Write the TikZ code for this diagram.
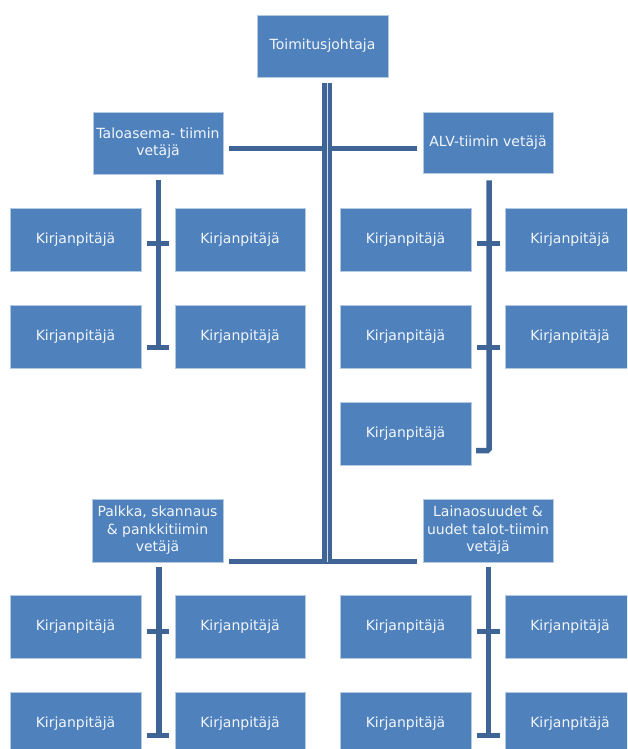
\documentclass[tikz,border=0pt]{standalone}
\usepackage{fontspec}
\setmainfont{DejaVu Sans}
\usetikzlibrary{calc}
\definecolor{boxblue}{HTML}{4F81BD}
\definecolor{boxedge}{HTML}{B4C8E2}
\definecolor{conn}{HTML}{3F6597}
\definecolor{gapc}{HTML}{D3DEEE}
\definecolor{txt}{HTML}{F2F6FB}
\begin{document}
\begin{tikzpicture}[x=1pt,y=-1pt,
  box/.style={fill=boxblue,draw=boxedge,line width=0.7pt,inner sep=0pt,
    minimum width=130pt,minimum height=63pt,text=txt,align=center,
    font=\fontsize{14}{17.5}\selectfont},
  wire/.style={draw=conn,line width=5pt},
  gapline/.style={draw=gapc,line width=0.9pt}]
\useasboundingbox (0,0) rectangle (627,749);
\clip (0,0) rectangle (627,749);
% leaders
\node[box,minimum width=131pt,minimum height=62pt] (ceo) at (322.5,46) {Toimitusjohtaja};
\node[box,minimum height=62pt] (tl) at (158,143) {Taloasema- tiimin\\vetäjä};
\node[box,minimum height=61pt] (tr) at (488,142.5) {ALV-tiimin vetäjä};
\node[box,minimum width=131pt] (bl) at (157.5,530.5) {Palkka, skannaus\\\& pankkitiimin\\vetäjä};
\node[box] (br) at (488,530.5) {Lainaosuudet \&\\uudet talot-tiimin\\vetäjä};
% upper left group
\node[box,minimum width=131pt] (a11) at (75.5,239.5) {Kirjanpitäjä};
\node[box] (a12) at (240,239.5) {Kirjanpitäjä};
\node[box,minimum width=131pt] (a21) at (75.5,336.5) {Kirjanpitäjä};
\node[box] (a22) at (240,336.5) {Kirjanpitäjä};
% upper right group
\node[box,minimum width=131pt] (b11) at (405.5,239.5) {Kirjanpitäjä};
\node[box] (b12) at (570,239.5) {Kirjanpitäjä};
\node[box,minimum width=131pt] (b21) at (405.5,336.5) {Kirjanpitäjä};
\node[box] (b22) at (570,336.5) {Kirjanpitäjä};
\node[box,minimum width=131pt] (b31) at (405.5,433.5) {Kirjanpitäjä};
% lower left group
\node[box,minimum width=131pt] (c11) at (75.5,626.5) {Kirjanpitäjä};
\node[box] (c12) at (240,626.5) {Kirjanpitäjä};
\node[box,minimum width=131pt] (c21) at (75.5,723.5) {Kirjanpitäjä};
\node[box] (c22) at (240,723.5) {Kirjanpitäjä};
% lower right group
\node[box,minimum width=131pt] (d11) at (405.5,626.5) {Kirjanpitäjä};
\node[box] (d12) at (570,626.5) {Kirjanpitäjä};
\node[box,minimum width=131pt] (d21) at (405.5,723.5) {Kirjanpitäjä};
\node[box] (d22) at (570,723.5) {Kirjanpitäjä};
% coordinates
\coordinate (trunkend) at (327,564);
\coordinate (aend) at (158.5,350);
\coordinate (bend) at (489,450.5);
\coordinate (belbow) at (476,450.5);
\coordinate (cend) at (159,737.5);
\coordinate (dend) at (488.5,737.5);
% horizontal buses
\draw[wire] ($(tl.east)+(6,5)$) -- ($(tr.west)+(-6,5.5)$);
\draw[wire] ($(bl.east)+(6,30.5)$) -- ($(br.west)+(-6,30.5)$);
% trunk (double line)
\draw[draw=conn,line width=10.5pt] ($(ceo.south)+(4.5,6)$) -- (trunkend);
\draw[gapline] ($(ceo.south)+(4.5,6)$) -- ($(trunkend)+(0,-2)$);
% upper left group
\draw[wire,line width=5.5pt] ($(tl.south)+(0.5,6)$) -- (aend);
\draw[wire] ($(a11.east)+(6,3.5)$) -- ($(a12.west)+(-6,3.5)$);
\draw[wire] ($(a21.east)+(6,11)$) -- ($(a22.west)+(-6,11)$);
% upper right group
\draw[wire,line width=5.5pt,rounded corners=1.5pt] ($(tr.south)+(1,7)$) -- (bend) -- (belbow);
\draw[wire] ($(b11.east)+(6,3.5)$) -- ($(b12.west)+(-5,3.5)$);
\draw[wire] ($(b21.east)+(6,11)$) -- ($(b22.west)+(-5,11)$);
% lower left group
\draw[wire,line width=5.5pt] ($(bl.south)+(1.5,5)$) -- (cend);
\draw[wire] ($(c11.east)+(6,4.5)$) -- ($(c12.west)+(-6,4.5)$);
\draw[wire] ($(c21.east)+(6,11.5)$) -- ($(c22.west)+(-6,11.5)$);
% lower right group
\draw[wire,line width=5.5pt] ($(br.south)+(0.5,5)$) -- (dend);
\draw[wire] ($(d11.east)+(6,4.5)$) -- ($(d12.west)+(-5,4.5)$);
\draw[wire] ($(d21.east)+(6,11.5)$) -- ($(d22.west)+(-5,11.5)$);
\end{tikzpicture}
\end{document}
